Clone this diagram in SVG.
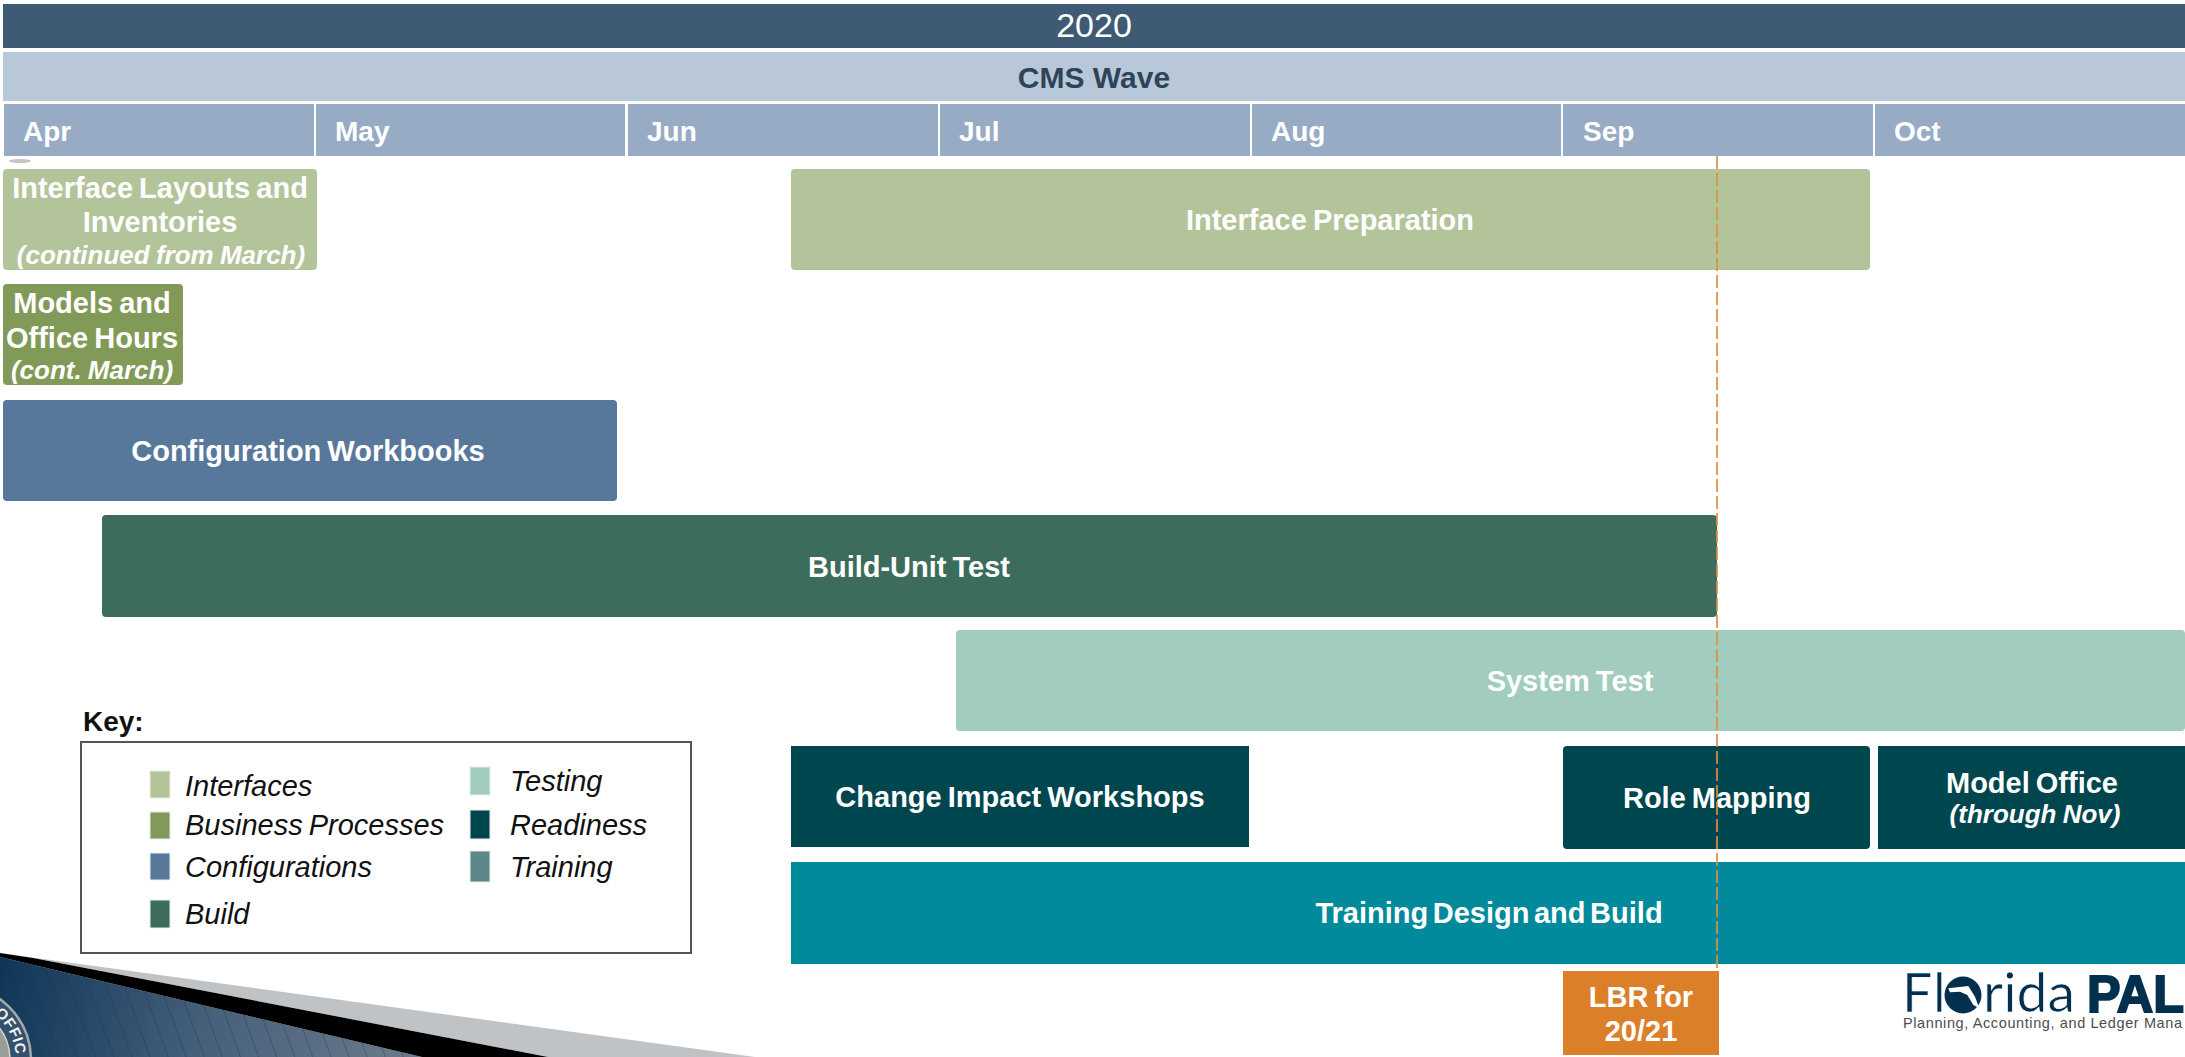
<svg xmlns="http://www.w3.org/2000/svg" width="2185" height="1057" viewBox="0 0 2185 1057">
<style>
text{font-family:"Liberation Sans",Arial,sans-serif}
.b{font-weight:700;font-size:29px;word-spacing:-2px;fill:#fff;text-anchor:middle}
.i{font-style:italic;font-weight:700;font-size:26px;word-spacing:-1px;fill:#fff;text-anchor:middle}
.m{font-weight:700;font-size:28px;fill:#fff}
.k{font-style:italic;font-size:29px;word-spacing:-2px;fill:#111}
.mo{fill:#97abc5}
.s{stroke:#e8eee4;stroke-width:1}
.lt{font-family:Lato,"Liberation Sans",sans-serif;font-size:54px;fill:#04304f;stroke:#fff;stroke-width:.7px}
</style>
<defs>
<linearGradient id="blue" gradientUnits="userSpaceOnUse" x1="0" y1="960" x2="420" y2="1057"><stop offset="0" stop-color="#0e3558"/><stop offset="0.5" stop-color="#46607b"/><stop offset="1" stop-color="#6d7b8b"/></linearGradient>
<pattern id="stripes" width="17" height="17" patternUnits="userSpaceOnUse" patternTransform="rotate(-20)"><rect width="1" height="17" fill="#1c3148" fill-opacity=".35"/></pattern>
<path id="seal-arc" d="M-104,1060 a60,60 0 0 1 120,0"/>
</defs>
<rect width="2185" height="1057" fill="#fff"/>
<ellipse cx="20" cy="161" rx="11" ry="2" fill="#c4c4c4"/>
<g id="banner">
<polygon points="0,957 422,1057 0,1057" fill="url(#blue)"/>
<polygon points="0,957 422,1057 0,1057" fill="url(#stripes)"/>
<polygon points="0,953 755,1057 548,1057 33,958" fill="#bfc3c6"/>
<polygon points="0,953 33,958 548,1057 422,1057 0,957" fill="#000"/>
<circle cx="-44" cy="1060" r="75" fill="#33506e" stroke="#a4aaa8" stroke-width="2.5"/>
<circle cx="-44" cy="1060" r="54" fill="#9a9c96" stroke="#d5d6d0" stroke-width="1.5"/>
<text font-family="Liberation Serif" font-size="15" font-weight="700" fill="#f2f2ee" letter-spacing=".5"><textPath href="#seal-arc" startOffset="72%">OFFIC</textPath></text>
</g>
<g id="header-year"><rect x="3" y="4" width="2182" height="44" fill="#3f5a74"/><text x="1094" y="37" font-size="34" fill="#fff" text-anchor="middle">2020</text></g>
<g id="header-wave"><rect x="3" y="52" width="2182" height="49" fill="#b8c8d8"/><text x="1094" y="88" font-size="30" font-weight="700" fill="#2e4459" text-anchor="middle">CMS Wave</text></g>
<g id="month-apr"><rect class="mo" x="4" y="104" width="310" height="52"/><text class="m" x="23" y="141">Apr</text></g>
<g id="month-may"><rect class="mo" x="316" y="104" width="309" height="52"/><text class="m" x="335" y="141">May</text></g>
<g id="month-jun"><rect class="mo" x="628" y="104" width="310" height="52"/><text class="m" x="647" y="141">Jun</text></g>
<g id="month-jul"><rect class="mo" x="940" y="104" width="310" height="52"/><text class="m" x="959" y="141">Jul</text></g>
<g id="month-aug"><rect class="mo" x="1252" y="104" width="309" height="52"/><text class="m" x="1271" y="141">Aug</text></g>
<g id="month-sep"><rect class="mo" x="1563" y="104" width="310" height="52"/><text class="m" x="1583" y="141">Sep</text></g>
<g id="month-oct"><rect class="mo" x="1875" y="104" width="310" height="52"/><text class="m" x="1894" y="141">Oct</text></g>
<g id="interface-layouts"><rect x="3" y="169" width="314" height="101" rx="4" fill="#b4c49a"/><text class="b" x="160" y="198">Interface Layouts and</text><text class="b" x="160" y="232">Inventories</text><text class="i" x="161" y="264">(continued from March)</text></g>
<g id="models"><rect x="3" y="284" width="180" height="101" rx="4" fill="#829a58"/><text class="b" x="92" y="313">Models and</text><text class="b" x="92" y="348">Office Hours</text><text class="i" x="92" y="379">(cont. March)</text></g>
<g id="interface-preparation"><rect x="791" y="169" width="1079" height="101" rx="4" fill="#b4c49a"/><text class="b" x="1330" y="230">Interface Preparation</text></g>
<g id="configuration"><rect x="3" y="400" width="614" height="101" rx="4" fill="#57789b"/><text class="b" x="308" y="461">Configuration Workbooks</text></g>
<g id="build"><rect x="102" y="515" width="1615" height="102" rx="4" fill="#3c6d5c"/><text class="b" x="909" y="577">Build-Unit Test</text></g>
<g id="system-test"><rect x="956" y="630" width="1229" height="101" rx="4" fill="#a1ccbe"/><text class="b" x="1570" y="691">System Test</text></g>
<g id="change-impact"><rect x="791" y="746" width="458" height="101" fill="#00464f"/><text class="b" x="1020" y="807">Change Impact Workshops</text></g>
<g id="role-mapping"><rect x="1563" y="746" width="307" height="103" rx="4" fill="#00464f"/><text class="b" x="1717" y="808">Role Mapping</text></g>
<g id="model-office"><rect x="1878" y="746" width="307" height="103" fill="#00464f"/><text class="b" x="2032" y="793">Model Office</text><text class="i" x="2035" y="823">(through Nov)</text></g>
<g id="training"><rect x="791" y="862" width="1394" height="102" fill="#008a9c"/><text class="b" x="1489" y="923" style="word-spacing:-3.5px">Training Design and Build</text></g>
<g id="lbr"><rect x="1563" y="971" width="156" height="84" fill="#db7f29"/><text class="b" x="1641" y="1007">LBR for</text><text class="b" x="1641" y="1041">20/21</text></g>
<g id="connectors"><line x1="1717" y1="156" x2="1717" y2="971" stroke="#db8f3f" stroke-opacity=".85" stroke-width="2" stroke-dasharray="13 4"/></g>
<g id="key"><text x="83" y="731" font-size="28" font-weight="700" fill="#111">Key:</text>
<rect x="81" y="742" width="610" height="211" fill="#fff" stroke="#555" stroke-width="2"/>
<rect class="s" x="150" y="771" width="20" height="27" fill="#b4c49a"/><text class="k" x="185" y="796">Interfaces</text>
<rect class="s" x="150" y="812" width="20" height="27" fill="#829a58"/><text class="k" x="185" y="835">Business Processes</text>
<rect class="s" x="150" y="853" width="20" height="27" fill="#57789b"/><text class="k" x="185" y="877">Configurations</text>
<rect class="s" x="150" y="900" width="20" height="28" fill="#3c6d5c"/><text class="k" x="185" y="924">Build</text>
<rect class="s" x="470" y="767" width="20" height="28" fill="#a1ccbe"/><text class="k" x="510" y="791">Testing</text>
<rect class="s" x="470" y="810" width="20" height="29" fill="#00464f"/><text class="k" x="510" y="835">Readiness</text>
<rect class="s" x="470" y="851" width="20" height="31" fill="#5a8789"/><text class="k" x="510" y="877">Training</text></g>
<g id="logo"><text class="lt" x="1902" y="1012" letter-spacing="1">Fl</text><circle cx="1963" cy="995" r="18.5" fill="#04304f"/><polygon points="1948.3,988.3 1968.3,986 1975,996.7 1979.3,1008.3 1973.3,1005 1967.3,995 1960,991.7 1950,992.3" fill="#fff"/><text class="lt" x="1983" y="1012" textLength="92" lengthAdjust="spacingAndGlyphs">rida</text><text x="2087" y="1012" font-weight="700" font-size="52" fill="#04304f" stroke="#04304f" stroke-width="2" textLength="97" lengthAdjust="spacingAndGlyphs">PAL</text><text x="1903" y="1028" font-size="14.5" textLength="279" fill="#4d4d4d">Planning, Accounting, and Ledger Mana</text></g>
</svg>
